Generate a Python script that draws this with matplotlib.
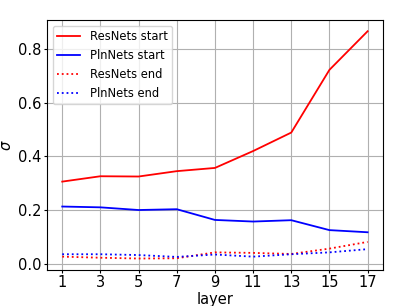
import matplotlib
matplotlib.use("Agg")
import matplotlib.pyplot as plt

layers = [1, 3, 5, 7, 9, 11, 13, 15, 17]
res_start = [0.306, 0.326, 0.325, 0.345, 0.357, 0.420, 0.489, 0.723, 0.867]
pln_start = [0.213, 0.210, 0.200, 0.203, 0.163, 0.157, 0.162, 0.125, 0.117]
res_end = [0.026, 0.022, 0.019, 0.020, 0.042, 0.040, 0.036, 0.056, 0.081]
pln_end = [0.035, 0.035, 0.032, 0.025, 0.034, 0.026, 0.035, 0.042, 0.054]

fig = plt.figure(figsize=(3.98, 3.06), dpi=100)
ax = fig.add_axes([0.118, 0.118, 0.844, 0.817])

lw = 1.3
ax.plot(layers, res_start, 'r-', lw=lw, label='ResNets start')
ax.plot(layers, pln_start, 'b-', lw=lw, label='PlnNets start')
ax.plot(layers, res_end, 'r:', lw=lw, label='ResNets end')
ax.plot(layers, pln_end, 'b:', lw=lw, label='PlnNets end')

ax.set_xticks(layers)
ax.set_yticks([0.0, 0.2, 0.4, 0.6, 0.8])
ax.tick_params(labelsize=10.5, length=2.5, pad=1.5)
ax.set_xlabel('layer', fontsize=10.5, labelpad=1)
ax.set_ylabel(r'$\sigma$', fontsize=10.5, labelpad=3)
ax.grid(True)
ax.legend(loc='upper left', fontsize=8.3)

fig.savefig('out.png', dpi=100)
